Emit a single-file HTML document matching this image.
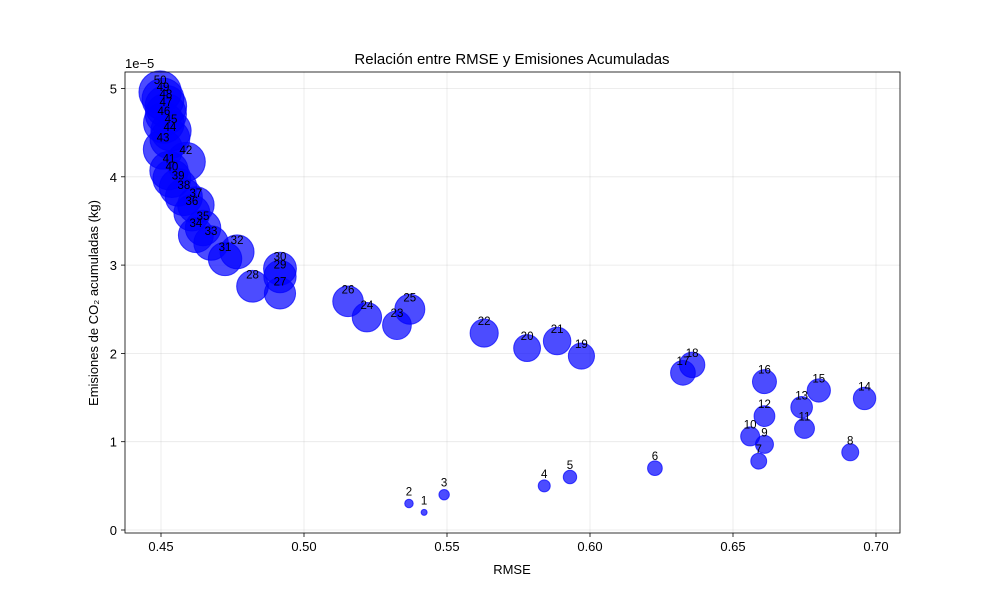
<!DOCTYPE html>
<html><head><meta charset="utf-8"><style>
body{margin:0;background:#fff}
svg{font-family:"Liberation Sans","DejaVu Sans",sans-serif}
</style></head><body>
<svg id="c" width="1000" height="600" viewBox="0 0 1000 600">
<rect width="1000" height="600" fill="#fff"/>
<g id="grid"></g><g id="pts"></g><g id="axes"></g>
</svg>
<script>
const ids=[1,2,3,4,5,6,7,8,9,10,11,12,13,14,15,16,17,18,19,20,21,22,23,24,25,26,27,28,29,30,31,32,33,34,35,36,37,38,39,40,41,42,43,44,45,46,47,48,49,50];
const rmse=[0.542,0.5367,0.549,0.584,0.593,0.6227,0.659,0.691,0.661,0.656,0.675,0.661,0.674,0.696,0.680,0.661,0.6325,0.6357,0.597,0.578,0.5885,0.563,0.5325,0.522,0.537,0.5154,0.4916,0.482,0.4916,0.4916,0.4724,0.4766,0.4675,0.4622,0.4647,0.4608,0.4622,0.458,0.456,0.4538,0.4528,0.4587,0.4507,0.4531,0.4535,0.451,0.4517,0.4517,0.4507,0.4497];
const emis=[0.2,0.3,0.4,0.5,0.6,0.7,0.78,0.88,0.97,1.06,1.15,1.29,1.39,1.49,1.58,1.68,1.78,1.87,1.97,2.06,2.14,2.23,2.32,2.41,2.50,2.59,2.68,2.76,2.87,2.96,3.07,3.15,3.25,3.34,3.42,3.59,3.68,3.77,3.88,3.98,4.07,4.17,4.31,4.43,4.52,4.61,4.71,4.80,4.88,4.96];
const xTicks=[0.45,0.50,0.55,0.60,0.65,0.70];
const yTicks=[0,1,2,3,4,5];
const L=125,R=900,T=72,B=533;
const X=v=>161+(v-0.45)*2860;
const Y=v=>530-v*88.3;
const NS="http://www.w3.org/2000/svg";
function mk(tag,parent,at){const e=document.createElementNS(NS,tag);for(const k in at)e.setAttribute(k,at[k]);parent.appendChild(e);return e;}
const grid=document.getElementById('grid'),pts=document.getElementById('pts'),axes=document.getElementById('axes');
xTicks.forEach(t=>{const l=mk('line',grid,{x1:X(t),x2:X(t),y1:T,y2:B,stroke:'#b0b0b0','stroke-opacity':0.3,'stroke-width':0.8});

mk('line',axes,{x1:X(t),x2:X(t),y1:B,y2:B+4,stroke:'#000','stroke-width':0.8});
const tx=mk('text',axes,{x:X(t),y:B+18,'text-anchor':'middle','font-size':13});tx.textContent=t.toFixed(2);
});
yTicks.forEach(t=>{const l=mk('line',grid,{x1:L,x2:R,y1:Y(t),y2:Y(t),stroke:'#b0b0b0','stroke-opacity':0.3,'stroke-width':0.8});

mk('line',axes,{x1:L-4,x2:L,y1:Y(t),y2:Y(t),stroke:'#000','stroke-width':0.8});
const tx=mk('text',axes,{x:L-8,y:Y(t)+5,'text-anchor':'end','font-size':13});tx.textContent=t;
});
ids.forEach((n,i)=>{const c=mk('circle',pts,{cx:X(rmse[i]),cy:Y(emis[i]),r:3.0*Math.sqrt(n),fill:'#0000ff','fill-opacity':0.7,stroke:'#0000ff','stroke-opacity':0.7,'stroke-width':1});
});
ids.forEach((n,i)=>{const t=mk('text',pts,{x:X(rmse[i]),y:Y(emis[i])-8,'text-anchor':'middle','font-size':11.5});t.textContent=n;
});
const fr=mk('rect',axes,{x:L,y:T,width:R-L,height:B-T,fill:'none',stroke:'#000','stroke-width':0.8});

let t=mk('text',axes,{x:512,y:64,'text-anchor':'middle','font-size':15});t.textContent='Relación entre RMSE y Emisiones Acumuladas';

t=mk('text',axes,{x:512,y:574,'text-anchor':'middle','font-size':13});t.textContent='RMSE';

t=mk('text',axes,{x:98,y:303,'text-anchor':'middle','font-size':13,transform:'rotate(-90 98 303)'});t.textContent='Emisiones de CO₂ acumuladas (kg)';

t=mk('text',axes,{x:125,y:68,'font-size':13});t.textContent='1e−5';

</script>
</body></html>
